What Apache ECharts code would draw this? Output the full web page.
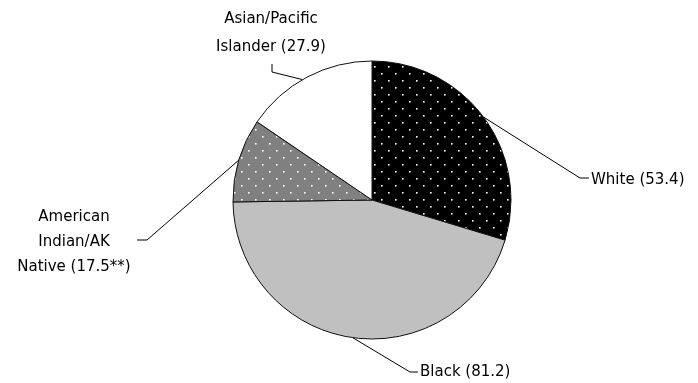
<!DOCTYPE html>
<html>
<head>
<meta charset="utf-8">
<script src="https://cdn.jsdelivr.net/npm/echarts@6/dist/echarts.min.js"></script>
<style>
html,body{margin:0;padding:0;background:#fff;}
#chart{width:698px;height:383px;}
</style>
</head>
<body>
<div id="chart"></div>
<script>
// Data
var categories = ['White', 'Black', 'American Indian/AK Native', 'Asian/Pacific Islander'];
var values = [53.4, 81.2, 17.5, 27.9];
var labelTexts = ['White (53.4)', 'Black (81.2)', 'American\nIndian/AK\nNative (17.5**)', 'Asian/Pacific\nIslander (27.9)'];

// Geometry / style
var CX = 372, CY = 200, R = 139;

function dotPattern(bg) {
  var c = document.createElement('canvas');
  c.width = 14; c.height = 14;
  var ctx = c.getContext('2d');
  ctx.fillStyle = bg; ctx.fillRect(0, 0, 14, 14);
  ctx.fillStyle = '#ffffff';
  ctx.fillRect(3, 3, 1.6, 1.6);
  ctx.fillRect(10, 10, 1.6, 1.6);
  return c;
}
var fills = [
  { image: dotPattern('#000000'), repeat: 'repeat' },
  '#c0c0c0',
  { image: dotPattern('#808080'), repeat: 'repeat' },
  '#ffffff'
];

// label placement (annotation layout)
var labelPos = [
  { x: 591, y: 180, align: 'left', bend: [[580, 178], [589, 178]], lh: 18 },
  { x: 420, y: 372, align: 'left', bend: [[410, 372], [418, 372]], lh: 18 },
  { x: 74, y: 242, align: 'center', bend: [[147, 240], [137, 240]], lh: 25 },
  { x: 271, y: 33, align: 'center', bend: [[272, 72], [272, 64]], lh: 28, startAngle: -30 }
];

var chart = echarts.init(document.getElementById('chart'), null, { renderer: 'canvas' });

var data = categories.map(function (c, i) {
  return {
    name: c,
    value: values[i],
    itemStyle: { color: fills[i] },
    label: { formatter: labelTexts[i], lineHeight: labelPos[i].lh, align: labelPos[i].align }
  };
});

chart.setOption({
  animation: false,
  backgroundColor: '#ffffff',
  series: [{
    type: 'pie',
    center: [CX, CY],
    radius: R,
    startAngle: 90,
    clockwise: true,
    silent: true,
    data: data,
    itemStyle: { borderColor: '#111', borderWidth: 1 },
    label: {
      show: true,
      position: 'outside',
      color: '#000',
      fontFamily: 'DejaVu Sans',
      fontSize: 15
    },
    labelLine: {
      show: true,
      length: 10,
      length2: 10,
      smooth: false,
      lineStyle: { color: '#000', width: 1 }
    },
    labelLayout: function (p) {
      var lp = labelPos[p.dataIndex];
      var start = p.labelLinePoints ? p.labelLinePoints[0] : [CX, CY];
      if (lp.startAngle !== undefined) {
        var a = lp.startAngle * Math.PI / 180;
        start = [CX + R * Math.sin(a), CY - R * Math.cos(a)];
      }
      return {
        x: lp.x,
        y: lp.y,
        align: lp.align,
        verticalAlign: 'middle',
        labelLinePoints: [start, lp.bend[0], lp.bend[1]]
      };
    }
  }]
});
</script>
</body>
</html>
